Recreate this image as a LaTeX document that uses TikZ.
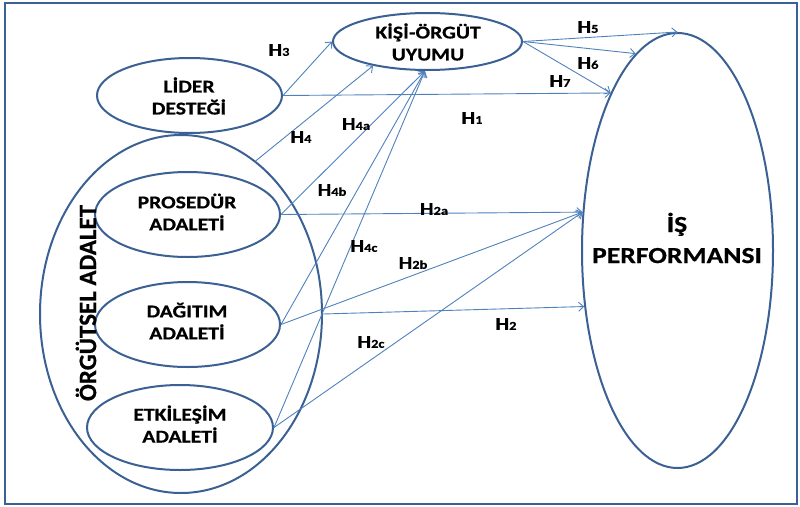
\documentclass[tikz,border=0pt]{standalone}
\usepackage{fontspec}
\setmainfont{Carlito}[FakeStretch=1.2, BoldFont={Carlito Bold}, BoldFeatures={FakeBold=0.6}]
\newfontfamily\rotfont{Carlito}[BoldFont={Carlito Bold}, BoldFeatures={FakeBold=0.6}]
\usetikzlibrary{shapes.geometric,arrows.meta}
\definecolor{outl}{HTML}{3A6094}
\definecolor{arr}{HTML}{4F81BD}
\newcommand\hlab[1]{H{\fontsize{12}{12}\selectfont #1}}
\begin{document}
\begin{tikzpicture}[x=1pt,y=-1pt,
  ell/.style={ellipse, draw=outl, line width=2pt, inner sep=0pt},
  lbl/.style={font=\bfseries\fontsize{18}{22}\selectfont, align=center, inner sep=0pt},
  hyp/.style={font=\bfseries\fontsize{18}{18}\selectfont, inner sep=0pt},
  link/.style={draw=arr, line width=0.9pt, -{Straight Barb[length=5pt,width=9pt]}}]
\useasboundingbox (0,0) rectangle (800,506);
\draw[draw=outl, line width=2.5pt] (5,3) rectangle (797,504);

% ellipses
\node[ell, minimum width=185pt, minimum height=75pt] (lider) at (189.5,95.5) {};
\node[ell, minimum width=189pt, minimum height=57pt] (kisi) at (427.5,41.5) {};
\node[ell, minimum width=191pt, minimum height=435pt] (perf) at (677.5,250.5) {};
\node[ell, minimum width=282pt, minimum height=358pt] (org) at (181,314) {};
\node[ell, minimum width=185pt, minimum height=85pt] (pros) at (187.5,214.5) {};
\node[ell, minimum width=185pt, minimum height=85pt] (dag) at (187.5,324.5) {};
\node[ell, minimum width=186pt, minimum height=85pt] (etk) at (180,427.5) {};

% texts
\node[lbl] (liderT) at (189,96) {LİDER\\DESTEĞİ};
\node[lbl] (kisiT) at (428,42) {KİŞİ-ÖRGÜT\\UYUMU};
\node[lbl] (prosT) at (187,212) {PROSEDÜR\\ADALETİ};
\node[lbl] (dagT) at (187,321) {DAĞITIM\\ADALETİ};
\node[lbl] (etkT) at (180,424) {ETKİLEŞİM\\ADALETİ};
\node[lbl, font=\bfseries\fontsize{23}{31}\selectfont] (perfT) at (677,238) {İŞ\\PERFORMANSI};
\node[inner sep=0pt, rotate=90, font=\rotfont\bfseries\fontsize{25}{25}\selectfont] (orgT) at (86,303) {ÖRGÜTSEL ADALET};

% connectors
\draw[link] (lider.east) -- (kisi.west);
\draw[link] (lider.east) -- (perf.113.7);
\draw[link] (org.64.9) -- (kisi.204);
\draw[link] (pros.east) -- (kisi.265);
\draw[link] (dag.east) -- (kisi.265);
\draw[link] (etk.east) -- (kisi.265);
\draw[link] (pros.east) -- (perf.158.9);
\draw[link] (dag.east) -- (perf.158.9);
\draw[link] (etk.east) -- (perf.158.9);
\draw[link] (org.east) -- (perf.211);
\draw[link] (kisi.east) -- (perf.north);
\draw[link] (kisi.east) -- (perf.102.4);
\draw[link] (kisi.east) -- (perf.113.7);

% hypothesis labels
\node[hyp] (h3) at (279,50) {\hlab{3}};
\node[hyp] (h4) at (301,137) {\hlab{4}};
\node[hyp] (h4a) at (356,124) {\hlab{4a}};
\node[hyp] (h1) at (472,118) {\hlab{1}};
\node[hyp] (h4b) at (332,190) {\hlab{4b}};
\node[hyp] (h2a) at (434,209) {\hlab{2a}};
\node[hyp] (h4c) at (364,246) {\hlab{4c}};
\node[hyp] (h2b) at (413,263) {\hlab{2b}};
\node[hyp] (h2) at (506,324) {\hlab{2}};
\node[hyp] (h2c) at (371,342) {\hlab{2c}};
\node[hyp] (h5) at (588,27) {\hlab{5}};
\node[hyp] (h6) at (588,63) {\hlab{6}};
\node[hyp] (h7) at (560,81) {\hlab{7}};
\end{tikzpicture}
\end{document}
